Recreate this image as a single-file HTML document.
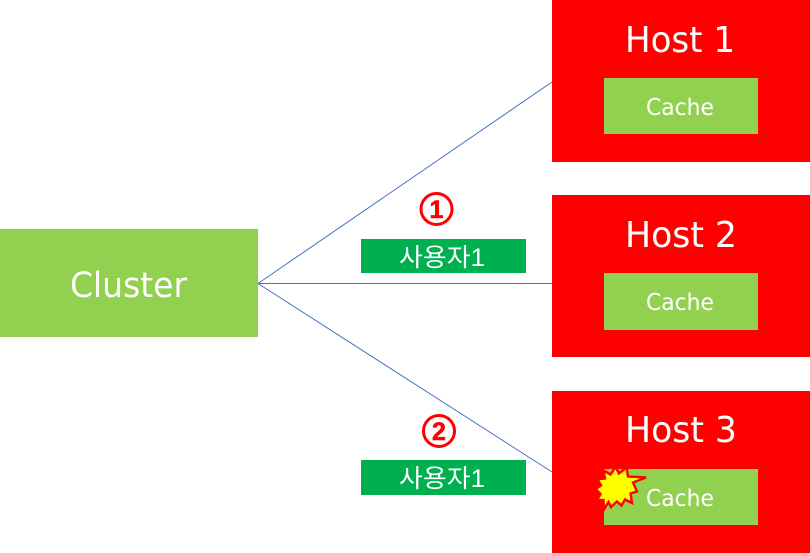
<!DOCTYPE html>
<html><head><meta charset="utf-8"><style>
html,body{margin:0;padding:0;background:#fff;width:810px;height:553px;overflow:hidden}
svg{display:block}
text{font-family:"DejaVu Sans","Liberation Sans","Noto Sans CJK KR",sans-serif;fill:#fff}
.k{font-family:"Liberation Sans","Noto Sans CJK KR",sans-serif}
</style></head><body>
<svg width="810" height="553" viewBox="0 0 810 553" xmlns="http://www.w3.org/2000/svg">
<rect x="0" y="229" width="258" height="108" fill="#92d050"/>
<text x="70" y="297" font-size="35" textLength="117" lengthAdjust="spacingAndGlyphs">Cluster</text>
<g stroke="#4472c4" stroke-width="1" fill="none">
<line x1="258" y1="283.5" x2="552" y2="82"/>
<line x1="258" y1="283.5" x2="552" y2="283.5"/>
<line x1="258" y1="283.5" x2="552" y2="472"/>
</g>
<rect x="552" y="0" width="258" height="162" fill="#ff0000"/>
<rect x="552" y="195" width="258" height="162" fill="#ff0000"/>
<rect x="552" y="391" width="258" height="162" fill="#ff0000"/>
<rect x="604" y="78" width="154" height="56" fill="#92d050"/>
<rect x="604" y="273" width="154" height="57" fill="#92d050"/>
<rect x="604" y="469" width="154" height="56" fill="#92d050"/>
<text x="625" y="52" font-size="36" textLength="110" lengthAdjust="spacingAndGlyphs">Host 1</text>
<text x="625" y="247" font-size="36" textLength="112" lengthAdjust="spacingAndGlyphs">Host 2</text>
<text x="625" y="442" font-size="36" textLength="112" lengthAdjust="spacingAndGlyphs">Host 3</text>
<text x="646" y="115" font-size="23" textLength="68" lengthAdjust="spacingAndGlyphs">Cache</text>
<text x="646" y="310" font-size="23" textLength="68" lengthAdjust="spacingAndGlyphs">Cache</text>
<text x="646" y="506" font-size="23" textLength="68" lengthAdjust="spacingAndGlyphs">Cache</text>
<polygon points="646,477.5 633,482.5 637,491.5 630.5,493.5 632,503 625,499.5 621.5,505.5 617,501.5 611,507 608.5,502 604,509.5 603.5,500 597,500.5 600.5,494 595.5,489 601,485.5 597.5,479 605,478.5 603.5,470.5 610.5,474.5 615.5,467 619,473.5 626.5,467.5 628,476.5" fill="#ffff00" stroke="#ff0000" stroke-width="2.4"/>
<rect x="361" y="239" width="165" height="34" fill="#00b050"/>
<rect x="361" y="460" width="165" height="35" fill="#00b050"/>
<text class="k" x="399" y="266" font-size="25" textLength="86" lengthAdjust="spacingAndGlyphs">사용자1</text>
<text class="k" x="399" y="487" font-size="25" textLength="86" lengthAdjust="spacingAndGlyphs">사용자1</text>
<circle cx="436.5" cy="209" r="15.5" fill="none" stroke="#ff0000" stroke-width="3"/>
<circle cx="439" cy="431" r="15.5" fill="none" stroke="#ff0000" stroke-width="3"/>
<text class="k" x="436.5" y="218" font-size="25" font-weight="bold" text-anchor="middle" stroke="#ff0000" stroke-width="0.6" style="fill:#ff0000">1</text>
<text class="k" x="439" y="440" font-size="25" font-weight="bold" text-anchor="middle" stroke="#ff0000" stroke-width="0.6" style="fill:#ff0000">2</text>
</svg>
</body></html>
